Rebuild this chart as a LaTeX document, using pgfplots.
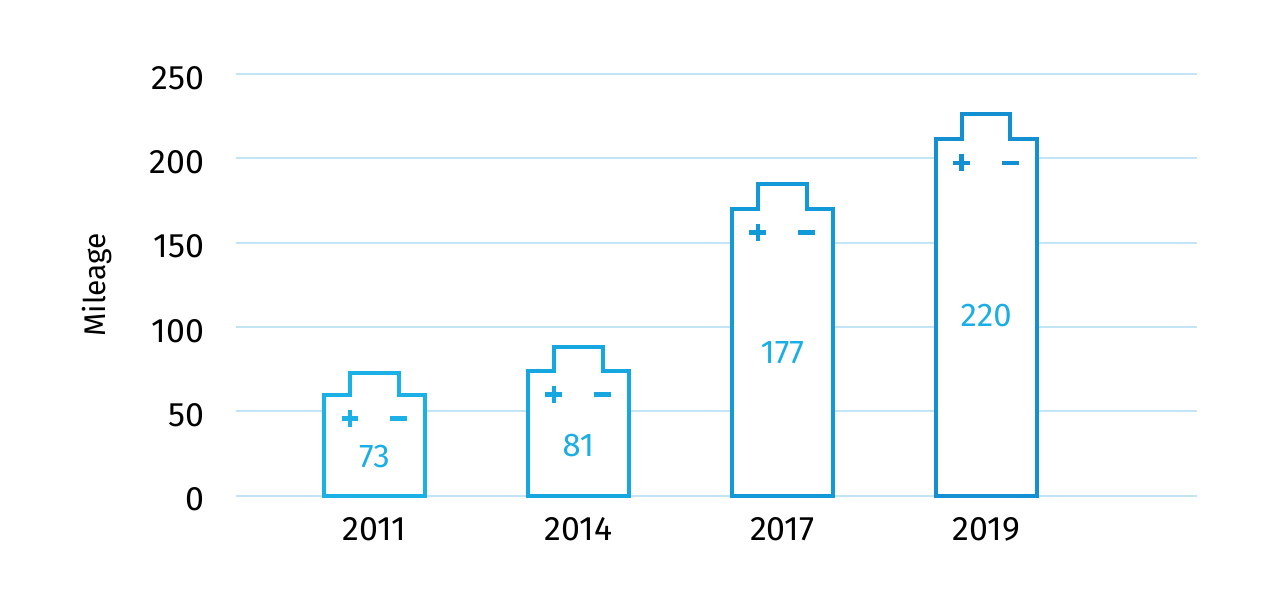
\documentclass[border=0pt]{standalone}
\usepackage{fontspec}
\setmainfont{Fira Sans}[Numbers=Proportional]
\usepackage{pgfplots}
\usepackage{pgfplotstable}
\pgfplotsset{compat=1.18}
\definecolor{gridc}{HTML}{C2E4F4}
\definecolor{cA}{HTML}{1BB0E6}
\definecolor{cB}{HTML}{16A6E0}
\definecolor{cC}{HTML}{1398D8}
\definecolor{cD}{HTML}{148FD1}
\definecolor{numc}{HTML}{1AAEE6}
\pgfplotstableread{
x ly lab
0 23.1 73
1 30.0 81
2 84.6 177
3 106.6 220
}\labels
\begin{document}
\begin{tikzpicture}
\path[use as bounding box] (-118.5bp,-56.15bp) rectangle (521.5bp,247.85bp);
\begin{axis}[
  at={(0,0)}, anchor=south west,
  scale only axis, width=479.5bp, height=210.85bp,
  xmin=-0.674, xmax=4.029, ymin=0, ymax=250,
  clip=false,
  axis line style={draw=none},
  major tick length=0,
  ytick={0,50,...,250},
  xtick={0,1,2,3},
  xticklabels={2011,2014,2017,2019},
  ymajorgrids,
  grid style={gridc, line width=1.1bp},
  /pgf/number format/assume math mode=true,
  tick label style={font=\fontsize{17}{19}\selectfont, text=black},
  yticklabel style={xshift=-13bp, yshift=-2bp},
  xticklabel style={yshift=-7.5bp},
  ylabel={Mileage},
  ylabel style={font=\fontsize{15}{17}\selectfont, at={(axis description cs:-0.1463,0.5)}, anchor=center},
  line cap=rect, line join=miter,
  pm/.style={only marks, mark size=4.2bp, mark options={draw=#1, line width=2.3bp, line cap=butt}},
]
\addplot[draw=cA, fill=white, line width=2bp] coordinates {(-0.248,0) (-0.248,59.7) (-0.119,59.7) (-0.119,72.9) (0.119,72.9) (0.119,59.7) (0.248,59.7) (0.248,0) (-0.248,0) (-0.248,59.7)};
\addplot[draw=cB, fill=white, line width=2bp] coordinates {(0.752,0) (0.752,74.1) (0.881,74.1) (0.881,88.3) (1.119,88.3) (1.119,74.1) (1.248,74.1) (1.248,0) (0.752,0) (0.752,74.1)};
\addplot[draw=cC, fill=white, line width=2bp] coordinates {(1.752,0) (1.752,170.0) (1.881,170.0) (1.881,184.8) (2.119,184.8) (2.119,170.0) (2.248,170.0) (2.248,0) (1.752,0) (1.752,170.0)};
\addplot[draw=cD, fill=white, line width=2bp] coordinates {(2.752,0) (2.752,211.3) (2.881,211.3) (2.881,226.1) (3.119,226.1) (3.119,211.3) (3.248,211.3) (3.248,0) (2.752,0) (2.752,211.3)};
\addplot[pm=cA, mark=+] coordinates {(-0.120,45.7)};
\addplot[pm=cA, mark=-] coordinates {(0.118,45.7)};
\addplot[pm=cB, mark=+] coordinates {(0.880,60.1)};
\addplot[pm=cB, mark=-] coordinates {(1.118,60.1)};
\addplot[pm=cC, mark=+] coordinates {(1.880,156.0)};
\addplot[pm=cC, mark=-] coordinates {(2.118,156.0)};
\addplot[pm=cD, mark=+] coordinates {(2.880,197.3)};
\addplot[pm=cD, mark=-] coordinates {(3.118,197.3)};
\addplot[only marks, mark=none, draw=none,
  nodes near coords={\pgfplotspointmeta},
  point meta=explicit symbolic,
  nodes near coords style={anchor=center, text=numc, font=\fontsize{16.5}{18}\selectfont}]
  table[x=x,y=ly,meta=lab] {\labels};
\end{axis}
\end{tikzpicture}
\end{document}
